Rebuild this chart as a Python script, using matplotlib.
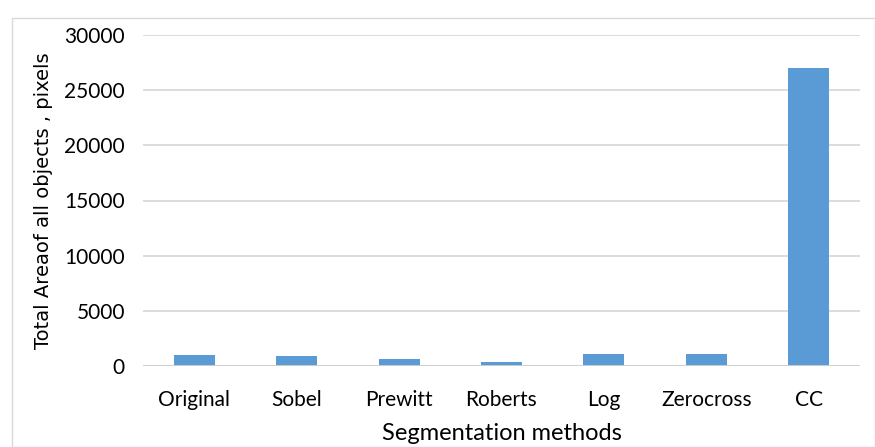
import matplotlib.pyplot as plt
from matplotlib.patches import Rectangle

methods = ["Original", "Sobel", "Prewitt", "Roberts", "Log", "Zerocross", "CC"]
area = [1030, 940, 630, 400, 1060, 1060, 27000]
yticks = [0, 5000, 10000, 15000, 20000, 25000, 30000]

fig = plt.figure(figsize=(8.75, 4.47), dpi=100)
fig.patch.set_facecolor("white")
# chart frame
fig.patches.append(Rectangle((12 / 875, 0), 1 - 12 / 875, 1 - 18 / 447, transform=fig.transFigure,
                             fill=False, edgecolor="#d9d9d9", linewidth=1.0))

ax = fig.add_axes([143 / 875, 81 / 447, 717 / 875, 331 / 447])
x = range(len(methods))
ax.bar(x, area, width=0.4, color="#5b9bd5", zorder=3)

ax.set_ylim(0, 30000)
ax.set_xlim(-0.5, len(methods) - 0.5)
ax.set_yticks(yticks)
ax.set_yticklabels([str(t) for t in yticks])
ax.set_xticks(list(x))
ax.set_xticklabels(methods)
ax.grid(axis="y", color="#d9d9d9", linewidth=1.3, zorder=0)
ax.axhline(0, color="#d0d0d0", linewidth=2, zorder=4)
for s in ax.spines.values():
    s.set_visible(False)
ax.tick_params(length=0, labelsize=15, colors="black")
ax.tick_params(axis="x", pad=17)
ax.tick_params(axis="y", pad=13)
for lab in ax.get_xticklabels() + ax.get_yticklabels():
    lab.set_family("Lato")

ax.set_xlabel("Segmentation methods", fontsize=17, family="Lato", labelpad=10)
ax.set_ylabel("Total Areaof all objects , pixels", fontsize=14, family="DejaVu Sans", labelpad=8)

fig.savefig("out.png", dpi=100)
